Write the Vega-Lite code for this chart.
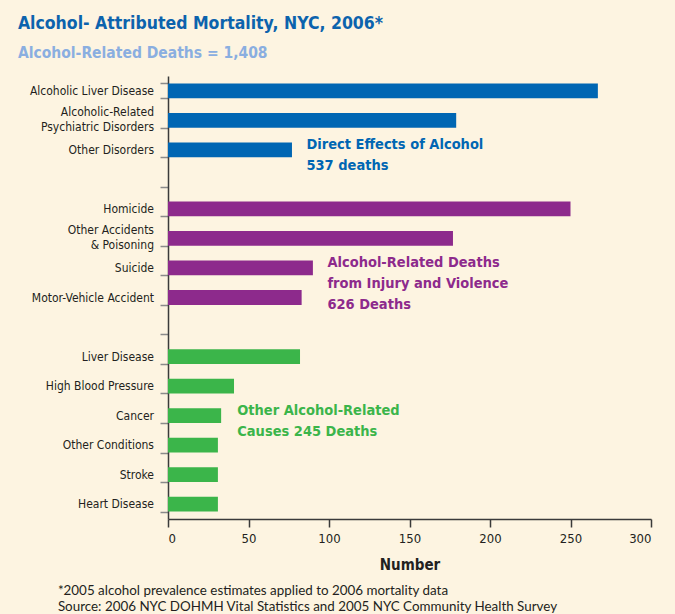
{
  "$schema": "https://vega.github.io/schema/vega-lite/v6.json",
  "background": "#fdf4e1",
  "padding": {"left": 17, "top": 15, "right": 24, "bottom": 4},
  "config": {
    "view": {"stroke": null},
    "font": "DejaVu Sans Condensed, Roboto, sans-serif",
    "concat": {"spacing": 0}
  },
  "title": {
    "text": "Alcohol- Attributed Mortality, NYC, 2006*",
    "subtitle": "Alcohol-Related Deaths = 1,408",
    "anchor": "start",
    "dx": -12,
    "font": "DejaVu Sans Condensed, Roboto, sans-serif",
    "fontSize": 17.5,
    "fontWeight": "bold",
    "color": "#0c63ad",
    "subtitleFont": "DejaVu Sans Condensed, Roboto, sans-serif",
    "subtitleFontSize": 15.5,
    "subtitleFontWeight": "bold",
    "subtitleColor": "#8aaee0",
    "subtitlePadding": 13,
    "offset": 15
  },
  "datasets": {
    "deaths": [
      {"cause": "Alcoholic Liver Disease", "count": 267, "group": "Direct"},
      {"cause": "Alcoholic-Related|Psychiatric Disorders", "count": 179, "group": "Direct"},
      {"cause": "Other Disorders", "count": 77, "group": "Direct"},
      {"cause": "Homicide", "count": 250, "group": "Injury"},
      {"cause": "Other Accidents|& Poisoning", "count": 177, "group": "Injury"},
      {"cause": "Suicide", "count": 90, "group": "Injury"},
      {"cause": "Motor-Vehicle Accident", "count": 83, "group": "Injury"},
      {"cause": "Liver Disease", "count": 82, "group": "Other"},
      {"cause": "High Blood Pressure", "count": 41, "group": "Other"},
      {"cause": "Cancer", "count": 33, "group": "Other"},
      {"cause": "Other Conditions", "count": 31, "group": "Other"},
      {"cause": "Stroke", "count": 31, "group": "Other"},
      {"cause": "Heart Disease", "count": 31, "group": "Other"}
    ],
    "notes": [
      {"note": "Direct Effects of Alcohol|537 deaths", "count": 86, "cause": "Other Disorders", "group": "Direct"},
      {"note": "Alcohol-Related Deaths|from Injury and Violence|626 Deaths", "count": 99, "cause": "Suicide", "group": "Injury"},
      {"note": "Other Alcohol-Related|Causes 245 Deaths", "count": 43, "cause": "Cancer", "group": "Other"}
    ]
  },
  "vconcat": [
    {
      "width": 483,
      "height": 443,
      "title": {
        "text": ["*2005 alcohol prevalence estimates applied to 2006 mortality data", "Source: 2006 NYC DOHMH Vital Statistics and 2005 NYC Community Health Survey"],
        "orient": "bottom",
        "anchor": "start",
        "font": "Lato",
        "fontSize": 13.4,
        "fontWeight": "normal",
        "color": "#231f20",
        "lineHeight": 16,
        "offset": 12,
        "frame": "bounds",
        "dx": 28
      },
      "encoding": {
        "y": {
          "field": "cause",
          "type": "nominal",
          "scale": {
            "domain": ["Alcoholic Liver Disease", "Alcoholic-Related|Psychiatric Disorders", "Other Disorders", " ", "Homicide", "Other Accidents|& Poisoning", "Suicide", "Motor-Vehicle Accident", "  ", "Liver Disease", "High Blood Pressure", "Cancer", "Other Conditions", "Stroke", "Heart Disease"],
            "paddingInner": 0.5,
            "paddingOuter": 0.25
          },
          "axis": {
            "title": null,
            "labels": false,
            "tickBand": "extent",
            "tickSize": 8,
            "tickColor": "#8a8a8a",
            "tickWidth": 1.5,
            "domainColor": "#3a3a3a",
            "domainWidth": 1.5
          }
        },
        "x": {
          "field": "count",
          "type": "quantitative",
          "scale": {"domain": [0, 300], "nice": false},
          "axis": {
            "title": "Number",
            "values": [0, 50, 100, 150, 200, 250, 300],
            "grid": false,
            "labelFont": "DejaVu Sans Condensed, Roboto, sans-serif",
            "labelFontSize": 13,
            "labelColor": "#231f20",
            "labelPadding": 5,
            "tickSize": 8,
            "tickColor": "#3a3a3a",
            "tickWidth": 1.5,
            "domainColor": "#3a3a3a",
            "domainWidth": 1.5,
            "titleFont": "DejaVu Sans Condensed, Roboto, sans-serif",
            "titleFontSize": 15,
            "titleFontWeight": "bold",
            "titleColor": "#231f20",
            "titlePadding": 12
          }
        },
        "color": {
          "field": "group",
          "type": "nominal",
          "scale": {"domain": ["Direct", "Injury", "Other"], "range": ["#0066b3", "#8d2a8c", "#3bb54a"]},
          "legend": null
        }
      },
      "layer": [
        {
          "data": {"name": "deaths"},
          "mark": {"type": "bar"}
        },
        {
          "data": {"name": "deaths"},
          "transform": [{"filter": "indexof(datum.cause, '|') < 0"}],
          "mark": {
            "type": "text",
            "align": "right",
            "baseline": "middle",
            "font": "DejaVu Sans Condensed, Roboto, sans-serif",
            "fontSize": 12,
            "dx": -14
          },
          "encoding": {
            "x": {"datum": 0},
            "text": {"field": "cause", "type": "nominal"},
            "color": {"value": "#231f20"}
          }
        },
        {
          "data": {"name": "deaths"},
          "transform": [{"filter": "indexof(datum.cause, '|') >= 0"}],
          "mark": {
            "type": "text",
            "align": "right",
            "baseline": "middle",
            "lineBreak": "|",
            "lineHeight": 15,
            "font": "DejaVu Sans Condensed, Roboto, sans-serif",
            "fontSize": 12,
            "dx": -14,
            "dy": -8
          },
          "encoding": {
            "x": {"datum": 0},
            "text": {"field": "cause", "type": "nominal"},
            "color": {"value": "#231f20"}
          }
        },
        {
          "data": {"name": "notes"},
          "mark": {
            "type": "text",
            "align": "left",
            "baseline": "top",
            "lineBreak": "|",
            "font": "DejaVu Sans Condensed, Roboto, sans-serif",
            "fontSize": 14.5,
            "fontWeight": "bold",
            "lineHeight": 21,
            "dy": -12
          },
          "encoding": {
            "text": {"field": "note", "type": "nominal"}
          }
        }
      ]
    }
  ]
}
